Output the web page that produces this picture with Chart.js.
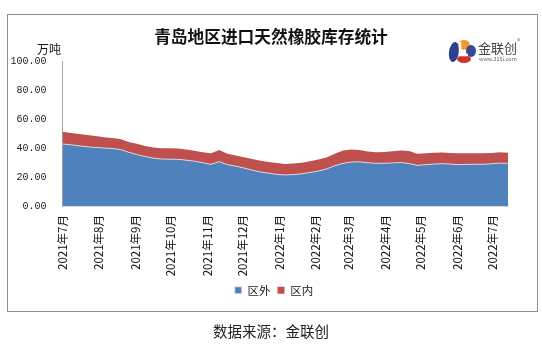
<!DOCTYPE html>
<html>
<head>
<meta charset="utf-8">
<script src="https://cdn.jsdelivr.net/npm/chart.js@4/dist/chart.umd.min.js"></script>
<style>
	html, body { margin: 0; padding: 0; background: #fff; }
	#wrap { position: relative; width: 542px; height: 353px; overflow: hidden; font-family: "Noto Sans CJK SC", sans-serif; }
	#frame { position: absolute; left: 7px; top: 14px; width: 531px; height: 298px; border: 1px solid #8e8e8e; box-sizing: border-box; }
	#chart { position: absolute; left: 0; top: 0; }
	.txt { position: absolute; white-space: nowrap; color: #111; }
	#title { left: 0; width: 542px; top: 26px; text-align: center; font-size: 16.7px; line-height: 20px; font-weight: bold; }
	#unit { left: 37px; top: 41px; font-size: 12px; line-height: 16px; }
	#source { left: 0; width: 542px; top: 321px; text-align: center; font-size: 14.5px; line-height: 20px; color: #222; }
	#brand { left: 478px; top: 40px; font-size: 13px; line-height: 16px; color: #444; }
	#site { left: 479px; top: 56px; font-size: 5.5px; line-height: 7px; color: #666; }
	#reg { left: 517px; top: 37px; font-size: 7px; line-height: 8px; color: #777; }
	#logo { position: absolute; left: 446px; top: 38px; }
</style>
</head>
<body>
<div id="wrap">
	<div id="frame"></div>
	<canvas id="chart" width="560" height="353"></canvas>
	<div class="txt" id="title">青岛地区进口天然橡胶库存统计</div>
	<div class="txt" id="unit">万吨</div>
	<canvas id="logo" width="32" height="26"></canvas>
	<div class="txt" id="brand">金联创</div>
	<div class="txt" id="site">www.315i.com</div>
	<div class="txt" id="reg">®</div>
	<div class="txt" id="source">数据来源：金联创</div>
</div>
<script>
// weekly observations
const weekDates = [
	'2021-07-01', '2021-07-08', '2021-07-15', '2021-07-22', '2021-07-29',
	'2021-08-05', '2021-08-12', '2021-08-19', '2021-08-26',
	'2021-09-02', '2021-09-09', '2021-09-16', '2021-09-23', '2021-09-30',
	'2021-10-07', '2021-10-14', '2021-10-21', '2021-10-28',
	'2021-11-04', '2021-11-11', '2021-11-18', '2021-11-25',
	'2021-12-02', '2021-12-09', '2021-12-16', '2021-12-23', '2021-12-30',
	'2022-01-06', '2022-01-13', '2022-01-20', '2022-01-27',
	'2022-02-03', '2022-02-10', '2022-02-17', '2022-02-24',
	'2022-03-03', '2022-03-10', '2022-03-17', '2022-03-24', '2022-03-31',
	'2022-04-07', '2022-04-14', '2022-04-21', '2022-04-28',
	'2022-05-05', '2022-05-12', '2022-05-19', '2022-05-26',
	'2022-06-02', '2022-06-09', '2022-06-16', '2022-06-23', '2022-06-30',
	'2022-07-07', '2022-07-14'
];
// 区外 (万吨)
const outsideStock = [
	42.8, 42.2, 41.5, 40.8, 40.4, 40.0, 39.6, 39.0, 37.1, 35.5,
	34.1, 33.0, 32.4, 32.3, 32.2, 31.6, 30.9, 29.9, 28.7, 30.6,
	28.5, 27.5, 26.2, 24.7, 23.5, 22.6, 21.8, 21.4, 21.7, 22.2,
	23.1, 24.1, 25.5, 27.8, 29.4, 30.3, 30.5, 29.8, 29.4, 29.5,
	29.7, 30.0, 29.3, 28.0, 28.5, 28.9, 29.2, 28.9, 28.5, 28.7,
	28.8, 28.8, 29.1, 29.6, 29.4
];
// 区内 (万吨)
const insideStock = [
	8.4, 8.2, 8.1, 8.1, 7.8, 7.5, 7.3, 7.2, 7.1, 7.4,
	7.2, 7.3, 7.4, 7.5, 7.5, 7.4, 7.2, 7.2, 7.7, 8.0,
	7.5, 7.4, 7.4, 7.7, 7.7, 7.8, 7.8, 7.6, 7.6, 7.6,
	7.7, 8.0, 7.9, 8.2, 8.8, 8.7, 8.1, 7.8, 7.6, 7.8,
	8.0, 8.3, 8.6, 8.0, 7.9, 7.9, 7.7, 7.7, 7.8, 7.6,
	7.5, 7.5, 7.4, 7.4, 7.4
];
const monthDates = [
	'2021-07-01', '2021-08-01', '2021-09-01', '2021-10-01', '2021-11-01', '2021-12-01',
	'2022-01-01', '2022-02-01', '2022-03-01', '2022-04-01', '2022-05-01', '2022-06-01', '2022-07-01'
];
const monthLabels = [
	'2021年7月', '2021年8月', '2021年9月', '2021年10月', '2021年11月', '2021年12月',
	'2022年1月', '2022年2月', '2022年3月', '2022年4月', '2022年5月', '2022年6月', '2022年7月'
];
const yTicks = [0, 20, 40, 60, 80, 100];

const DAY = 24 * 60 * 60 * 1000;
const start = Date.parse(weekDates[0]);
const toDay = s => Math.round((Date.parse(s) - start) / DAY);
const days = weekDates.map(toDay);
const monthDays = monthDates.map(toDay);

const ctx = document.getElementById('chart').getContext('2d');
new Chart(ctx, {
	type: 'line',
	data: {
		datasets: [
			{
				label: '区外',
				data: days.map((d, i) => ({ x: d, y: outsideStock[i] })),
				backgroundColor: '#4F81BD',
				borderColor: 'rgba(235,225,230,0.85)',
				borderWidth: 1,
				pointRadius: 0,
				fill: 'origin'
			},
			{
				label: '区内',
				data: days.map((d, i) => ({ x: d, y: insideStock[i] })),
				backgroundColor: '#C0504D',
				borderColor: '#C0504D',
				borderWidth: 0,
				pointRadius: 0,
				fill: '-1'
			}
		]
	},
	options: {
		responsive: false,
		animation: false,
		devicePixelRatio: 1,
		layout: { padding: { left: 0, right: 12, top: 61, bottom: 47 } },
		plugins: {
			tooltip: { enabled: false },
			legend: {
				position: 'bottom',
				labels: {
					boxWidth: 7,
					boxHeight: 7,
					padding: 7,
					color: '#222',
					font: { size: 11.5, family: '"Noto Sans CJK SC", sans-serif' }
				}
			}
		},
		scales: {
			x: {
				type: 'linear',
				min: 0,
				max: days[days.length - 1],
				grid: { display: false, drawTicks: false },
				border: { display: true, color: '#d9d9d9' },
				afterBuildTicks: scale => { scale.ticks = monthDays.map(v => ({ value: v })); },
				afterFit: scale => { scale.height = 71.5; },
				ticks: {
					autoSkip: false,
					minRotation: 90,
					maxRotation: 90,
					padding: 9,
					color: '#111',
					font: { size: 11.5, family: '"Noto Sans CJK SC", sans-serif' },
					callback: v => monthLabels[monthDays.indexOf(v)]
				}
			},
			y: {
				stacked: true,
				min: 0,
				max: 100,
				grid: { display: false, drawTicks: false },
				border: { display: true, color: '#a6a6a6' },
				afterBuildTicks: scale => { scale.ticks = yTicks.map(v => ({ value: v })); },
				afterFit: scale => { scale.width = 62.5; },
				ticks: {
					padding: 16,
					color: '#222',
					font: { size: 10, family: '"Liberation Mono", monospace' },
					callback: v => v.toFixed(2)
				}
			},
			// empty right-hand spacer so the legend centres like the original
			spacer: {
				type: 'linear',
				position: 'right',
				grid: { display: false, drawTicks: false },
				border: { display: false },
				ticks: { display: false },
				afterFit: scale => { scale.width = 40; }
			}
		}
	}
});

// small brand mark
const lg = document.getElementById('logo').getContext('2d');
lg.fillStyle = '#2d3f8e';
lg.beginPath(); lg.ellipse(8, 14, 5, 10, 0.15, 0, Math.PI * 2); lg.fill();
lg.fillStyle = '#f19a27';
lg.beginPath(); lg.ellipse(18, 7, 6, 5, 0, 0, Math.PI * 2); lg.fill();
lg.fillStyle = '#34489a';
lg.beginPath(); lg.ellipse(25, 13, 5, 6, 0, 0, Math.PI * 2); lg.fill();
lg.fillStyle = '#d7302a';
lg.beginPath(); lg.ellipse(18, 21, 7, 4, 0, 0, Math.PI * 2); lg.fill();
lg.strokeStyle = '#fff';
lg.lineWidth = 2.5;
lg.beginPath(); lg.moveTo(14, 4); lg.lineTo(14, 17); lg.lineTo(22, 17); lg.stroke();
</script>
</body>
</html>
